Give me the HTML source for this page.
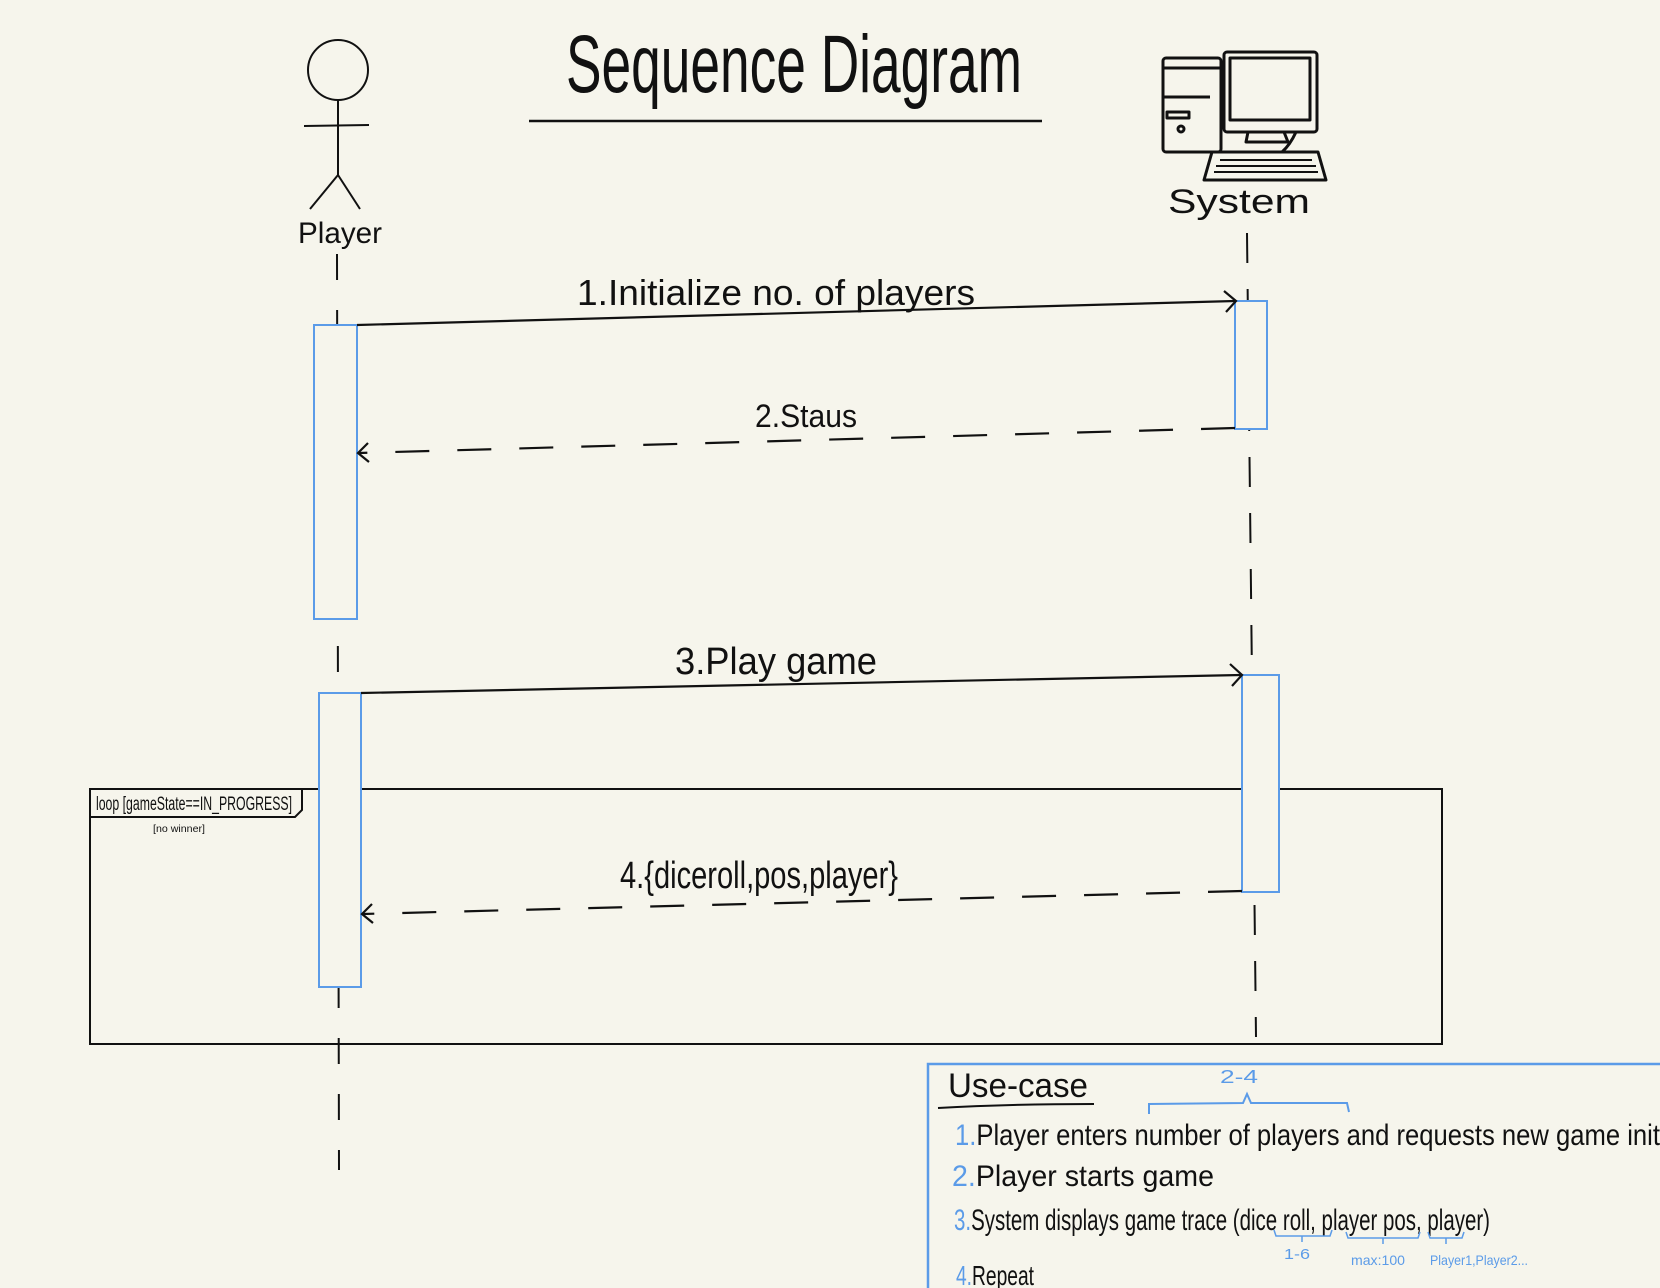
<!DOCTYPE html>
<html><head><meta charset="utf-8"><style>
html,body{margin:0;padding:0;background:#f6f5ec;}
svg{display:block;}
text{font-family:"Liberation Sans Narrow","Liberation Sans",sans-serif;fill:#111;}
.b{fill:#5b9be8;}
</style></head><body>
<svg width="1660" height="1288" viewBox="0 0 1660 1288" xmlns="http://www.w3.org/2000/svg">
<rect width="1660" height="1288" fill="#f6f5ec"/>
<!-- title -->
<text x="566" y="92" font-size="82" textLength="456" lengthAdjust="spacingAndGlyphs" style="font-family:'Liberation Sans',sans-serif;font-weight:300">Sequence Diagram</text>
<line x1="529" y1="121" x2="1042" y2="121" stroke="#111" stroke-width="2.5"/>
<!-- stick figure -->
<g stroke="#111" stroke-width="2" fill="none">
<circle cx="338" cy="70" r="30"/>
<line x1="338" y1="100" x2="338" y2="175"/>
<line x1="304" y1="126" x2="369" y2="125"/>
<line x1="338" y1="175" x2="310" y2="209"/>
<line x1="338" y1="175" x2="360" y2="209"/>
</g>
<text x="298" y="243" font-size="30" textLength="84" lengthAdjust="spacingAndGlyphs">Player</text>
<!-- computer -->
<g stroke="#111" stroke-width="3" fill="none" stroke-linejoin="round">
<rect x="1163" y="58" width="58" height="94" rx="3"/>
<line x1="1163" y1="68" x2="1221" y2="68"/>
<line x1="1163" y1="97" x2="1210" y2="97"/>
<rect x="1167" y="112" width="22" height="6"/>
<circle cx="1181" cy="129" r="3"/>
<rect x="1224" y="52" width="93" height="80" rx="3"/>
<rect x="1230" y="58" width="80" height="62"/>
<path d="M1248 132 L1246 142 L1288 142 L1284 132"/>
<path d="M1296 132 Q1290 145 1282 152"/>
<path d="M1212 152 L1318 152 L1326 180 L1204 180 Z"/>
<line x1="1220" y1="160" x2="1312" y2="160" stroke-width="2"/>
<line x1="1216" y1="166" x2="1316" y2="166" stroke-width="2"/>
<line x1="1214" y1="172" x2="1318" y2="172" stroke-width="2"/>
</g>
<text x="1168" y="213" font-size="34" textLength="142" lengthAdjust="spacingAndGlyphs">System</text>
<!-- lifelines -->
<line x1="337" y1="254" x2="339" y2="1170" stroke="#111" stroke-width="2" stroke-dasharray="26 30"/>
<line x1="1247" y1="233" x2="1256" y2="1037" stroke="#111" stroke-width="2" stroke-dasharray="30 26"/>
<!-- loop -->
<rect x="90" y="789" width="1352" height="255" fill="none" stroke="#111" stroke-width="2"/>
<path d="M90 817 L295 817 L302 810 L302 789" fill="none" stroke="#111" stroke-width="2"/>
<text x="96" y="810" font-size="19" textLength="196" lengthAdjust="spacingAndGlyphs">loop [gameState==IN_PROGRESS]</text>
<text x="153" y="832" font-size="10" textLength="52" lengthAdjust="spacingAndGlyphs">[no winner]</text>
<!-- activations -->
<g fill="#f6f5ec" stroke="#5b9be8" stroke-width="2">
<rect x="314" y="325" width="43" height="294"/>
<rect x="1235" y="301" width="32" height="128"/>
<rect x="319" y="693" width="42" height="294"/>
<rect x="1242" y="675" width="37" height="217"/>
</g>
<!-- arrows -->
<g stroke="#111" stroke-width="2.2" fill="none">
<line x1="357" y1="325" x2="1235" y2="301"/>
<path d="M1224 291 L1236 301 L1226 312"/>
<line x1="1235" y1="428" x2="359" y2="453" stroke-dasharray="34 28"/>
<path d="M368 443 L358 453 L369 462"/>
<line x1="361" y1="693" x2="1241" y2="675"/>
<path d="M1230 664 L1242 675 L1232 686"/>
<line x1="1242" y1="891" x2="363" y2="914" stroke-dasharray="34 28"/>
<path d="M372 904 L362 914 L373 923"/>
</g>
<text x="577" y="305" font-size="36" textLength="398" lengthAdjust="spacingAndGlyphs">1.Initialize no.  of players</text>
<text x="755" y="427" font-size="32" textLength="102" lengthAdjust="spacingAndGlyphs">2.Staus</text>
<text x="675" y="674" font-size="38" textLength="202" lengthAdjust="spacingAndGlyphs">3.Play game</text>
<text x="620" y="888" font-size="38" textLength="278" lengthAdjust="spacingAndGlyphs">4.{diceroll,pos,player}</text>
<!-- use case -->
<path d="M928 1288 L928 1064 L1660 1064" fill="none" stroke="#5b9be8" stroke-width="2.5"/>
<text x="948" y="1097" font-size="34" textLength="140" lengthAdjust="spacingAndGlyphs">Use-case</text>
<path d="M938 1108 Q1010 1104 1094 1104" stroke="#111" stroke-width="2" fill="none"/>
<text class="b" x="1220" y="1083" font-size="18" textLength="38" lengthAdjust="spacingAndGlyphs">2-4</text>
<path d="M1149 1114 L1149 1104 L1243 1103 L1247 1094 L1251 1103 L1347 1103 L1349 1112" stroke="#5b9be8" stroke-width="2" fill="none"/>
<text x="955" y="1145" font-size="30" textLength="705" lengthAdjust="spacingAndGlyphs"><tspan class="b">1.</tspan>Player enters number of players and requests new game init</text>
<text x="952" y="1186" font-size="30" textLength="262" lengthAdjust="spacingAndGlyphs"><tspan class="b">2.</tspan>Player starts game</text>
<text x="954" y="1230" font-size="30" textLength="536" lengthAdjust="spacingAndGlyphs"><tspan class="b">3.</tspan>System displays game trace (dice roll, player pos, player)</text>
<path d="M1274 1230 L1276 1236 L1330 1236 L1332 1230 M1302 1236 L1302 1242" stroke="#5b9be8" stroke-width="1.5" fill="none"/>
<path d="M1346 1232 L1348 1238 L1418 1238 L1420 1232 M1383 1238 L1383 1244" stroke="#5b9be8" stroke-width="1.5" fill="none"/>
<path d="M1428 1232 L1430 1238 L1462 1238 L1464 1232 M1446 1238 L1446 1244" stroke="#5b9be8" stroke-width="1.5" fill="none"/>
<text class="b" x="1284" y="1259" font-size="15" textLength="26" lengthAdjust="spacingAndGlyphs">1-6</text>
<text class="b" x="1351" y="1265" font-size="14" textLength="54" lengthAdjust="spacingAndGlyphs">max:100</text>
<text class="b" x="1430" y="1265" font-size="14" textLength="98" lengthAdjust="spacingAndGlyphs">Player1,Player2...</text>
<text x="956" y="1285" font-size="28" textLength="78" lengthAdjust="spacingAndGlyphs"><tspan class="b">4.</tspan>Repeat</text>
</svg>
</body></html>
